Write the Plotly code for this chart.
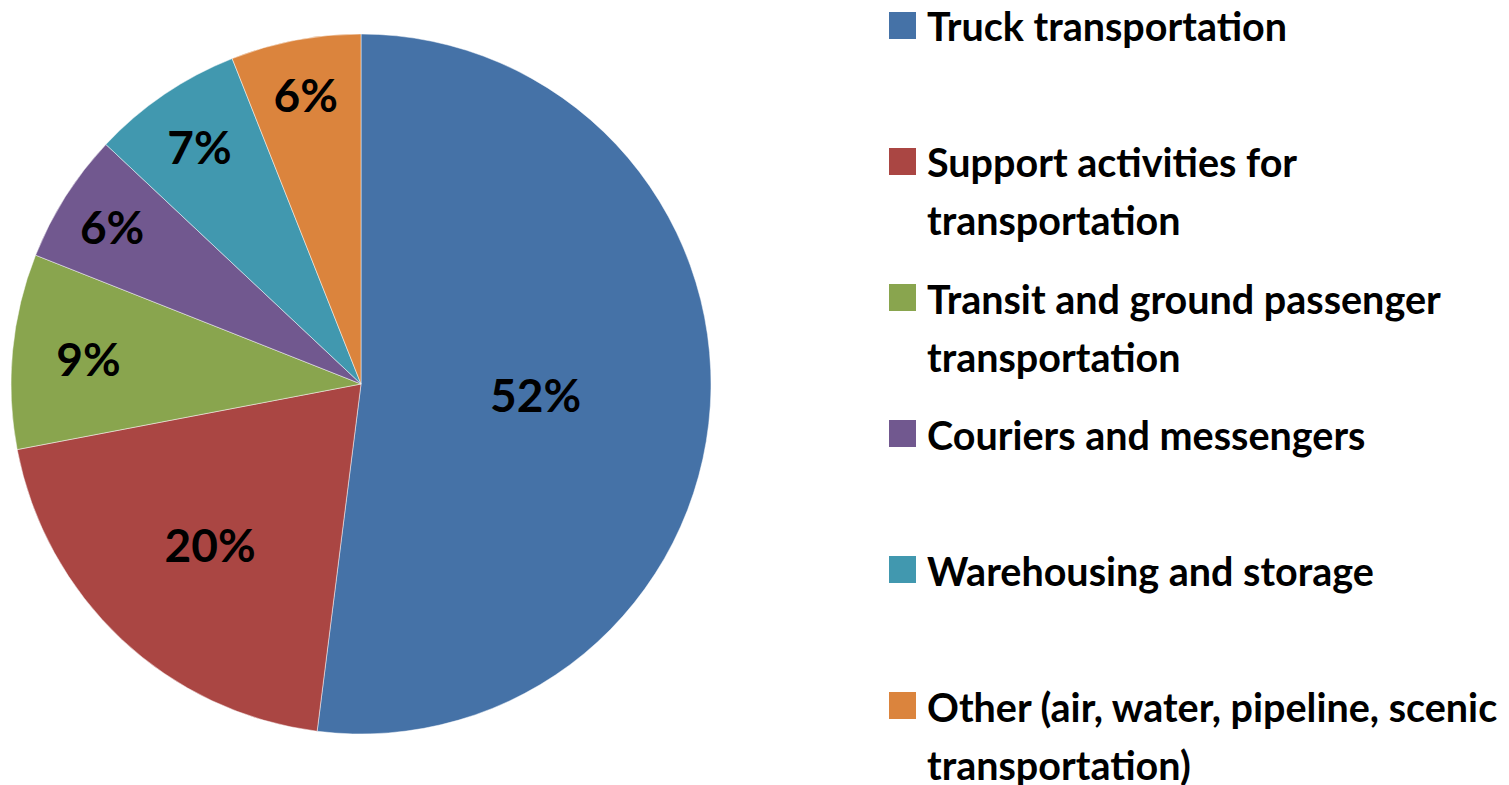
import plotly.graph_objects as go

labels = [
    "Truck transportation",
    "Support activities for<br>transportation",
    "Transit and ground passenger<br>transportation",
    "Couriers and messengers",
    "Warehousing and storage",
    "Other (air, water, pipeline, scenic<br>transportation)",
]
values = [52, 20, 9, 6, 7, 6]
colors = ["#4572A7", "#AA4643", "#89A54E", "#71588F", "#4198AF", "#DB843D"]

W, H = 1509, 785
FONT = "Lato, sans-serif"

fig = go.Figure(
    go.Pie(
        labels=labels,
        values=values,
        sort=False,
        direction="clockwise",
        rotation=0,
        marker=dict(colors=colors, line=dict(color="rgba(255,255,255,0.6)", width=0.8)),
        textinfo="percent",
        texttemplate="<b>%{percent:.0%}</b>",
        textposition="inside",
        insidetextorientation="horizontal",
        textfont=dict(family=FONT, size=46, color="black"),
        domain=dict(x=[11 / W, 711 / W], y=[1 - 734 / H, 1 - 34 / H]),
        showlegend=False,
        hoverinfo="label+percent",
    )
)

# custom legend built from labels and colors
annotations = []
shapes = []
first_line_y = 25
step = 136
line_gap = 58
for i, (lab, col) in enumerate(zip(labels, colors)):
    cy = first_line_y + i * step
    shapes.append(dict(type="rect", xref="paper", yref="paper",
                       x0=889 / W, x1=916 / W,
                       y0=1 - (cy + 14) / H, y1=1 - (cy - 13) / H,
                       fillcolor=col, line=dict(width=0)))
    for j, part in enumerate(lab.split("<br>")):
        ly = cy + j * line_gap + 1
        annotations.append(dict(xref="paper", yref="paper", x=925 / W, y=1 - ly / H,
                                xanchor="left", yanchor="middle", align="left",
                                text="<b>" + part + "</b>", showarrow=False,
                                font=dict(family=FONT, size=39.5, color="black")))

fig.update_layout(
    width=W, height=H,
    margin=dict(l=0, r=0, t=0, b=0),
    paper_bgcolor="white", plot_bgcolor="white",
    uniformtext=dict(minsize=46, mode="show"),
    shapes=shapes, annotations=annotations,
)

fig.write_html("out.html", config={"displayModeBar": False},
               post_script="document.body.style.margin='0';")
